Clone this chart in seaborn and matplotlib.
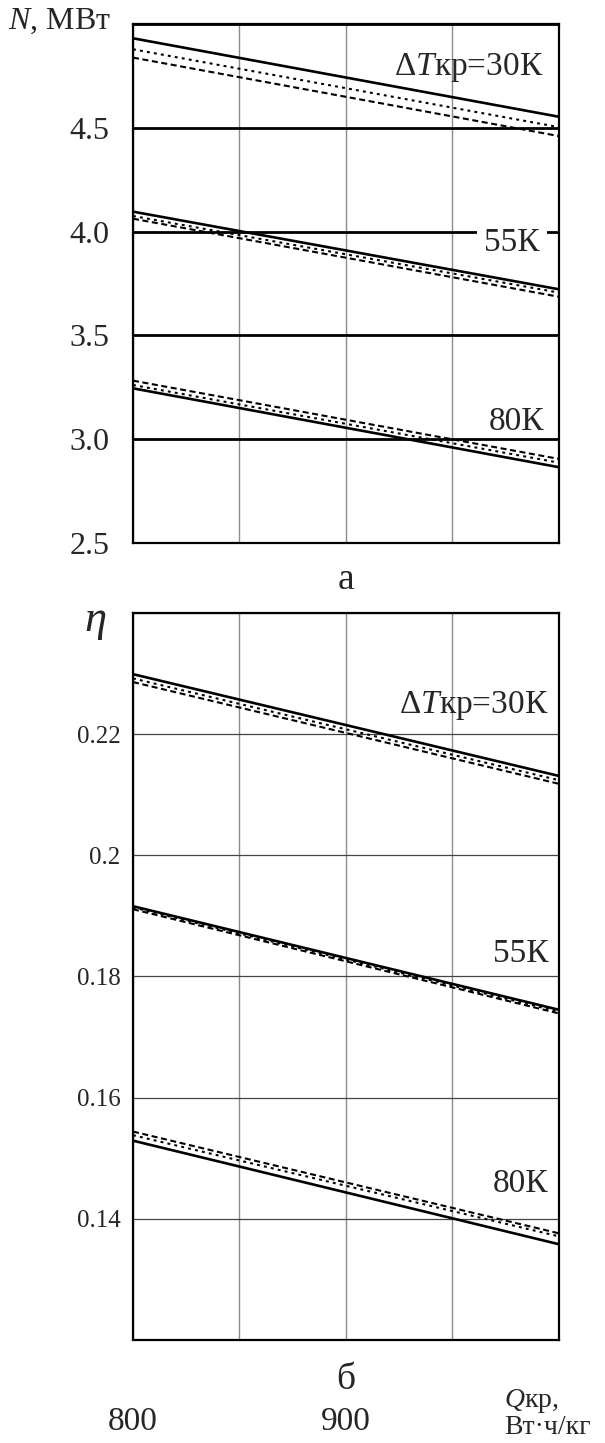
import seaborn as sns
import matplotlib.pyplot as plt
import pandas as pd

# Кривые: ΔTкр = 30, 55, 80 K; три варианта расчёта (сплошная, пунктир, штрих)
Q = [800, 1000]
groups = ['30K', '55K', '80K']
kinds = ['solid', 'dotted', 'dashed']

# N, МВт
N_30 = {'solid': [4.931, 4.553], 'dotted': [4.878, 4.503], 'dashed': [4.838, 4.460]}
N_55 = {'solid': [4.096, 3.722], 'dotted': [4.075, 3.706], 'dashed': [4.062, 3.686]}
N_80 = {'solid': [3.245, 2.865], 'dotted': [3.261, 2.887], 'dashed': [3.282, 2.905]}

# КПД η
eta_30 = {'solid': [0.2299, 0.2131], 'dotted': [0.2292, 0.2124], 'dashed': [0.2286, 0.2118]}
eta_55 = {'solid': [0.1916, 0.1745], 'dotted': [0.1914, 0.1742], 'dashed': [0.1911, 0.1739]}
eta_80 = {'solid': [0.1529, 0.1358], 'dotted': [0.1538, 0.1371], 'dashed': [0.1544, 0.1376]}

N_ticks = [2.5, 3.0, 3.5, 4.0, 4.5, 5.0]
N_labels = ['2.5', '3.0', '3.5', '4.0', '4.5', '']
eta_ticks = [0.12, 0.14, 0.16, 0.18, 0.20, 0.22, 0.24]
eta_labels = ['', '0.14', '0.16', '0.18', '0.2', '0.22', '']
Q_ticks = [800, 850, 900, 950, 1000]
Q_labels = ['800', '', '900', '', '']


def to_frame(series, col):
    rows = []
    for g, d in zip(groups, series):
        for k in kinds:
            for q, v in zip(Q, d[k]):
                rows.append({'Q': q, col: v, 'group': g, 'kind': k})
    return pd.DataFrame(rows)


df_N = to_frame([N_30, N_55, N_80], 'N')
df_eta = to_frame([eta_30, eta_55, eta_80], 'eta')

sns.set_theme(style='white')
plt.rcParams['font.family'] = ['Liberation Serif', 'DejaVu Serif']
plt.rcParams['mathtext.fontset'] = 'custom'
plt.rcParams['mathtext.rm'] = 'Liberation Serif'
plt.rcParams['mathtext.it'] = 'Liberation Serif:italic'

dashes = {'solid': '', 'dotted': (1.4, 2.0), 'dashed': (2.9, 1.7)}
sizes = {'solid': 1.9, 'dotted': 1.5, 'dashed': 1.5}

fig = plt.figure(figsize=(6.05, 14.43), dpi=100)
ax1 = fig.add_axes([0.2198, 0.6237, 0.7041, 0.3597])
ax2 = fig.add_axes([0.2198, 0.0714, 0.7041, 0.5038])

# верхний график: N
sns.lineplot(data=df_N, x='Q', y='N', units='group', estimator=None,
             style='kind', dashes=dashes, size='kind', sizes=sizes,
             color='black', legend=False, ax=ax1)
ax1.set_xlim(800, 1000)
ax1.set_ylim(2.5, 5.0)
ax1.set_xticks(Q_ticks)
ax1.set_xticklabels([])
ax1.set_yticks(N_ticks)
ax1.set_yticklabels(N_labels, fontsize=23)
ax1.tick_params(axis='y', length=0, pad=17)
ax1.tick_params(axis='x', length=0)
ax1.grid(axis='y', color='black', lw=2.0)
ax1.grid(axis='x', color='#8c8c8c', lw=1.0)
ax1.set_xlabel('')
ax1.set_ylabel('')
ax1.text(993, 4.79, r'$\Delta\mathit{T}$кр=30К', ha='right', va='center', fontsize=24)
ax1.text(991, 3.945, '55К', ha='right', va='center', fontsize=24,
         bbox=dict(facecolor='white', edgecolor='none', pad=5))
ax1.text(993, 3.083, '80К', ha='right', va='center', fontsize=24)
ax1.text(-0.293, 1.006, r'$N$, МВт', transform=ax1.transAxes, ha='left', va='center', fontsize=23)
ax1.text(0.5, -0.071, 'а', transform=ax1.transAxes, ha='center', va='center', fontsize=27)

# нижний график: η
sns.lineplot(data=df_eta, x='Q', y='eta', units='group', estimator=None,
             style='kind', dashes=dashes, size='kind', sizes=sizes,
             color='black', legend=False, ax=ax2)
ax2.set_xlim(800, 1000)
ax2.set_ylim(0.12, 0.24)
ax2.set_xticks(Q_ticks)
ax2.set_xticklabels(Q_labels, fontsize=24)
ax2.set_yticks(eta_ticks)
ax2.set_yticklabels(eta_labels, fontsize=18)
ax2.tick_params(axis='y', length=0, pad=9)
ax2.tick_params(axis='x', length=0, pad=48)
ax2.grid(axis='y', color='#444444', lw=0.9)
ax2.grid(axis='x', color='#8c8c8c', lw=1.0)
ax2.set_xlabel('')
ax2.set_ylabel('')
ax2.text(995, 0.2248, r'$\Delta\mathit{T}$кр=30К', ha='right', va='center', fontsize=24)
ax2.text(995, 0.1838, '55К', ha='right', va='center', fontsize=24)
ax2.text(995, 0.1458, '80К', ha='right', va='center', fontsize=24)
ax2.text(-0.089, 0.988, r'$\eta$', transform=ax2.transAxes, ha='center', va='center', fontsize=32)
ax2.text(0.5, -0.055, 'б', transform=ax2.transAxes, ha='center', va='center', fontsize=27)
ax2.text(0.871, -0.1015, '$Q$кр,\nВт·ч/кг', transform=ax2.transAxes,
         ha='left', va='center', fontsize=20, linespacing=1.0)

for ax in (ax1, ax2):
    for s in ax.spines.values():
        s.set_color('black')
        s.set_linewidth(1.6)

fig.savefig('out.png', dpi=100, facecolor='white')
